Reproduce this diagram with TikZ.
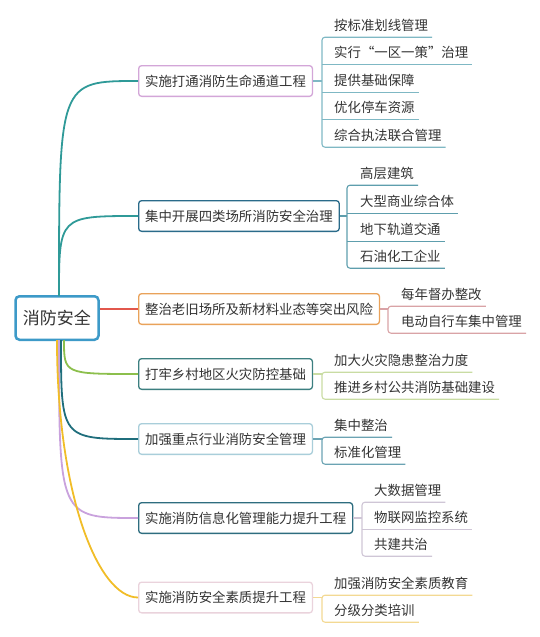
\documentclass[tikz,border=0pt]{standalone}
\usepackage{fontspec}
\newfontfamily\cjk{Noto Sans CJK SC}
\definecolor{ink}{HTML}{333333}
\definecolor{rootblue}{HTML}{3D9AC8}
\definecolor{tealbranch}{HTML}{2F9A98}
\definecolor{redbranch}{HTML}{E2574C}
\definecolor{greenbranch}{HTML}{8CBF4C}
\definecolor{deepteal}{HTML}{1F6E7C}
\definecolor{lavender}{HTML}{C9A2DD}
\definecolor{gold}{HTML}{F1BD28}
\definecolor{edgeone}{HTML}{D3A6D8}
\definecolor{edgetwo}{HTML}{2A6B8A}
\definecolor{edgethree}{HTML}{E9A25A}
\definecolor{edgefour}{HTML}{3C7F80}
\definecolor{edgefive}{HTML}{A9CEDA}
\definecolor{edgesix}{HTML}{2E6D7F}
\definecolor{edgeseven}{HTML}{EAD3DC}
\definecolor{twigone}{HTML}{7FB8C4}
\definecolor{twigtwo}{HTML}{5E9EAD}
\definecolor{twigthree}{HTML}{D9A3A6}
\definecolor{twigfour}{HTML}{C9DCA3}
\definecolor{twigfive}{HTML}{6BA3B3}
\definecolor{twigsix}{HTML}{CFC6D6}
\definecolor{twigseven}{HTML}{F3D993}

\begin{document}
\begin{tikzpicture}[x=1pt,y=-1pt,
    topic/.style={draw,rounded corners=3pt,line width=1.3pt,fill=white,anchor=west,
      font=\cjk\fontsize{13.4}{16}\selectfont,text=ink,text height=10pt,text depth=0pt,
      inner xsep=6.5pt,inner ysep=2pt,minimum height=30.7pt},
    leaf/.style={anchor=west,font=\cjk\fontsize{13.4}{16}\selectfont,text=ink,
      text height=10pt,text depth=0pt,inner xsep=4pt,inner ysep=7pt},
    branch/.style={line width=1.8pt},
    twig/.style={line width=1.1pt,rounded corners=3pt}]
        \useasboundingbox (0,0) rectangle (540,637);
        % centre topic
        \node[draw=rootblue,line width=2.5pt,rounded corners=4pt,fill=white,
          font=\cjk\fontsize{17}{20}\selectfont,text=ink,text height=12.5pt,text depth=0pt,
          inner xsep=7.5pt,minimum height=43.5pt] (root) at (57,318) {消防安全};
        % main topics
        \node[topic,draw=edgeone] (b1) at (138,81) {实施打通消防生命通道工程};
        \node[topic,draw=edgetwo] (b2) at (138,216) {集中开展四类场所消防安全治理};
        \node[topic,draw=edgethree] (b3) at (138,309) {整治老旧场所及新材料业态等突出风险};
        \node[topic,draw=edgefour] (b4) at (138,374) {打牢乡村地区火灾防控基础};
        \node[topic,draw=edgefive] (b5) at (138,439) {加强重点行业消防安全管理};
        \node[topic,draw=edgesix] (b6) at (138,518) {实施消防信息化管理能力提升工程};
        \node[topic,draw=edgeseven] (b7) at (138,597.5) {实施消防安全素质提升工程};
        % branches from the centre
        \coordinate (up) at ([xshift=2pt,yshift=-1pt]root.north);
        \coordinate (dn1) at ([xshift=7pt,yshift=1pt]root.south);
        \coordinate (dn2) at ([xshift=4pt,yshift=1pt]root.south);
        \coordinate (dn3) at ([xshift=2pt,yshift=1pt]root.south);
        \coordinate (dn4) at ([xshift=0pt,yshift=1pt]root.south);
        \draw[branch,tealbranch] (up) .. controls (up |- b1.west) .. (b1.west);
        \draw[branch,tealbranch] (up) .. controls (up |- b2.west) .. (b2.west);
        \draw[branch,redbranch] (root.east |- b3.west) -- (b3.west);
        \draw[branch,greenbranch] (dn1) .. controls (dn1 |- b4.west) .. (b4.west);
        \draw[branch,deepteal] (dn2) .. controls (dn2 |- b5.west) .. (b5.west);
        \draw[branch,lavender] (dn3) .. controls (dn3 |- b6.west) .. (b6.west);
        \draw[branch,gold] (dn4) .. controls ([yshift=-154pt]dn4) and ([xshift=-40pt]b7.west) .. (b7.west);
        % subtopics 1
        \coordinate (k1) at (322,81);
        \node[leaf] (c11) at (330,25) {按标准划线管理};
        \node[leaf] (c12) at (330,52.5) {实行“一区一策”治理};
        \node[leaf] (c13) at (330,80) {提供基础保障};
        \node[leaf] (c14) at (330,107.5) {优化停车资源};
        \node[leaf] (c15) at (330,135) {综合执法联合管理};
        \draw[twig,twigone] (b1.east) -- (k1);
        \draw[twig,twigone] (c11.south east) -- (k1 |- c11.south) -- (k1 |- c15.south) -- (c15.south east);
        \draw[twig,twigone] (k1 |- c12.south) -- (c12.south east);
        \draw[twig,twigone] (k1 |- c13.south) -- (c13.south east);
        \draw[twig,twigone] (k1 |- c14.south) -- (c14.south east);
        % subtopics 2
        \coordinate (k2) at (347,216);
        \node[leaf] (c21) at (356,173) {高层建筑};
        \node[leaf] (c22) at (356,201) {大型商业综合体};
        \node[leaf] (c23) at (356,229) {地下轨道交通};
        \node[leaf] (c24) at (356,256) {石油化工企业};
        \draw[twig,twigtwo] (b2.east) -- (k2);
        \draw[twig,twigtwo] (c21.south east) -- (k2 |- c21.south) -- (k2 |- c24.south) -- (c24.south east);
        \draw[twig,twigtwo] (k2 |- c22.south) -- (c22.south east);
        \draw[twig,twigtwo] (k2 |- c23.south) -- (c23.south east);
        % subtopics 3
        \coordinate (k3) at (388,309);
        \node[leaf] (c31) at (397,294) {每年督办整改};
        \node[leaf] (c32) at (397,321) {电动自行车集中管理};
        \draw[twig,twigthree] (b3.east) -- (k3);
        \draw[twig,twigthree] (c31.south east) -- (k3 |- c31.south) -- (k3 |- c32.south) -- (c32.south east);
        % subtopics 4
        \coordinate (k4) at (322,374);
        \node[leaf] (c41) at (330,360) {加大火灾隐患整治力度};
        \node[leaf] (c42) at (330,387) {推进乡村公共消防基础建设};
        \draw[twig,twigfour] (b4.east) -- (k4);
        \draw[twig,twigfour] (c41.south east) -- (k4 |- c41.south) -- (k4 |- c42.south) -- (c42.south east);
        % subtopics 5
        \coordinate (k5) at (322,439);
        \node[leaf] (c51) at (330,425) {集中整治};
        \node[leaf] (c52) at (330,452) {标准化管理};
        \draw[twig,twigfive] (b5.east) -- (k5);
        \draw[twig,twigfive] (c51.south east) -- (k5 |- c51.south) -- (k5 |- c52.south) -- (c52.south east);
        % subtopics 6
        \coordinate (k6) at (362,518);
        \node[leaf] (c61) at (370,490) {大数据管理};
        \node[leaf] (c62) at (370,517) {物联网监控系统};
        \node[leaf] (c63) at (370,544) {共建共治};
        \draw[twig,twigsix] (b6.east) -- (k6);
        \draw[twig,twigsix] (c61.south east) -- (k6 |- c61.south) -- (k6 |- c63.south) -- (c63.south east);
        \draw[twig,twigsix] (k6 |- c62.south) -- (c62.south east);
        % subtopics 7
        \coordinate (k7) at (322,597.5);
        \node[leaf] (c71) at (330,583) {加强消防安全素质教育};
        \node[leaf] (c72) at (330,610) {分级分类培训};
        \draw[twig,twigseven] (b7.east) -- (k7);
        \draw[twig,twigseven] (c71.south east) -- (k7 |- c71.south) -- (k7 |- c72.south) -- (c72.south east);
      \end{tikzpicture}
\end{document}
